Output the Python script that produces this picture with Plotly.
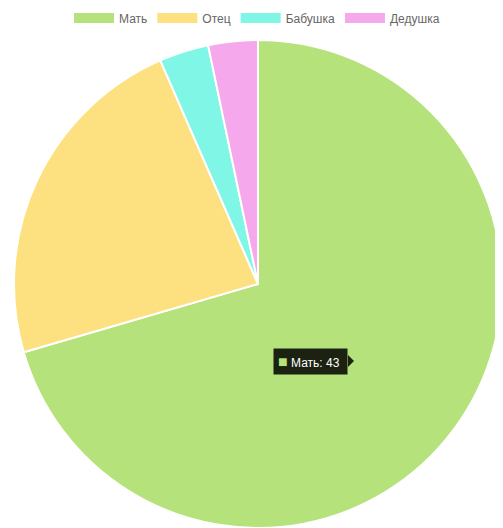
import plotly.graph_objects as go

labels = ["Мать", "Отец", "Бабушка", "Дедушка"]
values = [43, 14, 2, 2]
colors = ["#b5e27b", "#fde180", "#80f6e6", "#f5a8ec"]

fig = go.Figure()
fig.add_trace(go.Pie(
    labels=labels,
    values=values,
    marker=dict(colors=colors, line=dict(color="white", width=2)),
    sort=False,
    direction="clockwise",
    rotation=0,
    textinfo="none",
    hoverinfo="skip",
    showlegend=False,
    domain=dict(x=[0, 1], y=[0, 1]),
))

# legend entries (Chart.js-style wide colour boxes)
for lab, col in zip(labels, colors):
    fig.add_trace(go.Scatter(
        x=[None], y=[None], mode="lines", name=lab,
        line=dict(color=col, width=10), hoverinfo="skip", showlegend=True,
    ))

W, H = 495, 520
L, T = 5, 32
PW, PH = 490, 488


def px(x):
    return (x - 8 - L) / PW


def py(y):
    return 1 - (y - 8 - T) / PH


tooltip_label = labels[0]
tooltip_value = values[0]
fig.add_annotation(
    x=px(310), y=py(361), xref="paper", yref="paper",
    text=f"<span style='color:{colors[0]};font-size:16px'>■</span> {tooltip_label}: {tooltip_value} ",
    showarrow=False,
    font=dict(family="Liberation Sans", size=12, color="white"),
    bgcolor="rgba(0,0,0,0.85)",
    borderpad=4,
)
fig.add_shape(
    type="path", xref="paper", yref="paper",
    path=f"M {px(348)} {py(355)} L {px(354)} {py(361)} L {px(348)} {py(367)} Z",
    fillcolor="rgba(0,0,0,0.85)", line=dict(width=0),
)

fig.update_layout(
    width=W, height=H,
    margin=dict(l=L, r=W - L - PW, t=T, b=H - T - PH, autoexpand=False),
    paper_bgcolor="white",
    plot_bgcolor="rgba(0,0,0,0)",
    xaxis=dict(visible=False),
    yaxis=dict(visible=False),
    showlegend=True,
    legend=dict(
        orientation="h",
        xref="container", yref="container",
        x=(257 - 8) / W, y=1 - 10 / H,
        xanchor="center", yanchor="middle",
        font=dict(family="Liberation Sans", size=12, color="#666666"),
        itemwidth=40,
    ),
)

fig.write_html("out.html")
